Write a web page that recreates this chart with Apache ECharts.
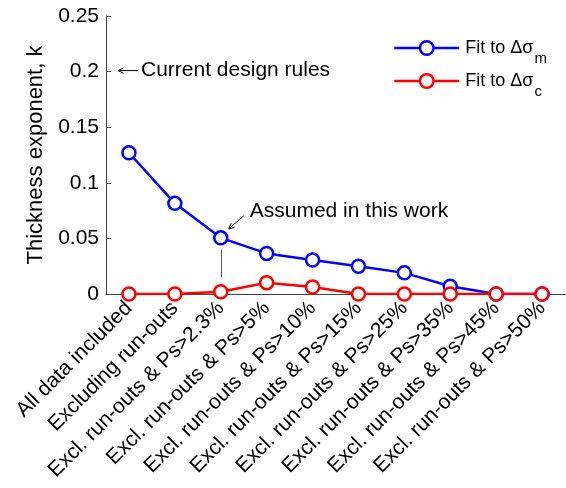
<!DOCTYPE html>
<html>
<head>
<meta charset="utf-8">
<script src="https://cdn.jsdelivr.net/npm/echarts@6/dist/echarts.min.js"></script>
<style>
  html, body { margin: 0; padding: 0; background: #fff; }
  #chart { width: 566px; height: 488px; }
</style>
</head>
<body>
<div id="chart"></div>
<script>
// Data subsets used for the thickness-exponent fits
const categories = [
  'All data included',
  'Excluding run-outs',
  'Excl. run-outs & Ps>2.3%',
  'Excl. run-outs & Ps>5%',
  'Excl. run-outs & Ps>10%',
  'Excl. run-outs & Ps>15%',
  'Excl. run-outs & Ps>25%',
  'Excl. run-outs & Ps>35%',
  'Excl. run-outs & Ps>45%',
  'Excl. run-outs & Ps>50%'
];
// Thickness exponent k fitted to the mean stress range
const fitMean = [0.127, 0.0815, 0.0505, 0.0365, 0.0305, 0.025, 0.019, 0.007, 0, 0];
// Thickness exponent k fitted to the characteristic stress range
const fitChar = [0, 0, 0.002, 0.0102, 0.0063, 0, 0, 0, 0, 0];
// Value axis ticks
const yTickValues = [0, 0.05, 0.1, 0.15, 0.2, 0.25];
// Reference levels for the annotations
const designRuleK = 0.2;
const assumedIndex = 2;
const assumedGuide = [0.0153, 0.0396];

const FONT = 'Liberation Sans, Arial, sans-serif';
const FS = 21;
const chart = echarts.init(document.getElementById('chart'));

const seriesNames = ['Fit to Δσ_m', 'Fit to Δσ_c'];

function markerSeries(name, data, color, extra) {
  return Object.assign({
    name: name,
    type: 'line',
    data: data,
    symbol: 'circle',
    symbolSize: 13,
    showAllSymbol: true,
    clip: true,
    lineStyle: { color: color, width: 2.5 },
    itemStyle: { color: '#fff', borderColor: color, borderWidth: 2.5 },
    emphasis: { disabled: true },
    animation: false
  }, extra || {});
}

chart.setOption({
  animation: false,
  backgroundColor: '#fff',
  grid: { left: 106, right: 1, top: 16, bottom: 194 },
  legend: {
    orient: 'vertical',
    left: 393,
    top: 39,
    padding: 0,
    itemWidth: 65,
    itemHeight: 17,
    itemGap: 6,
    data: seriesNames,
    lineStyle: { width: 2.5 },
    itemStyle: { borderWidth: 2.5 },
    formatter: function (name) {
      const parts = name.split('_');
      return '{n|' + parts[0] + '}{s|' + parts[1] + '}';
    },
    textStyle: {
      fontFamily: FONT,
      color: '#000',
      padding: [0, 0, 0, 1],
      rich: {
        n: { fontSize: 18, fontFamily: FONT, color: '#000', lineHeight: 22 },
        s: { fontSize: 15, fontFamily: FONT, color: '#000', padding: [21, 0, 0, 1] }
      }
    },
    selectedMode: false
  },
  xAxis: {
    type: 'category',
    data: categories,
    boundaryGap: true,
    axisLine: { lineStyle: { color: '#404040', width: 1 } },
    axisTick: { inside: true, alignWithLabel: true, length: 5, lineStyle: { color: '#404040' } },
    axisLabel: { rotate: 45, fontSize: FS, fontFamily: FONT, color: '#000', margin: 11, interval: 0 },
    splitLine: { show: false }
  },
  yAxis: {
    type: 'value',
    min: yTickValues[0],
    max: yTickValues[yTickValues.length - 1],
    interval: yTickValues[1] - yTickValues[0],
    name: 'Thickness exponent, k',
    nameLocation: 'middle',
    nameGap: 56,
    nameRotate: 90,
    nameTextStyle: { fontSize: 22, fontFamily: FONT, color: '#000' },
    axisLine: { show: true, lineStyle: { color: '#404040', width: 1 } },
    axisTick: { show: true, inside: true, length: 5, lineStyle: { color: '#404040' } },
    axisLabel: { fontSize: FS, fontFamily: FONT, color: '#000', margin: 7 },
    splitLine: { show: false }
  },
  series: [
    markerSeries(seriesNames[0], fitMean, '#0000ff', {
      z: 2,
      markLine: {
        silent: true,
        symbol: ['none', 'none'],
        label: { show: false },
        lineStyle: { color: '#555', width: 1, type: 'solid' },
        data: [[
          { coord: [assumedIndex, assumedGuide[0]] },
          { coord: [assumedIndex, assumedGuide[1]] }
        ]]
      }
    }),
    markerSeries(seriesNames[1], fitChar, '#ff0000', { z: 3 })
  ]
});

// Annotation arrows and texts, placed from the axes' own scales
function arrow(tail, tip) {
  const dx = tip[0] - tail[0], dy = tip[1] - tail[1];
  const ang = Math.atan2(dy, dx);
  const len = 6, spread = 0.45;
  const back = ang + Math.PI;
  const h1 = [tip[0] + len * Math.cos(back + spread), tip[1] + len * Math.sin(back + spread)];
  const h2 = [tip[0] + len * Math.cos(back - spread), tip[1] + len * Math.sin(back - spread)];
  const style = { stroke: '#000', lineWidth: 1 };
  return [
    { type: 'polyline', shape: { points: [tail, tip] }, style: style, silent: true },
    { type: 'polyline', shape: { points: [h1, tip, h2] }, style: style, silent: true }
  ];
}

const axisOrigin = chart.convertToPixel({ gridIndex: 0 }, [0, designRuleK]);
const yAxisX = chart.getModel().getComponent('grid').coordinateSystem.getRect().x;
const designY = axisOrigin[1];
const assumedPt = chart.convertToPixel({ seriesIndex: 0 }, [assumedIndex, fitMean[assumedIndex]]);

const tipA = [assumedPt[0] + 8, assumedPt[1] - 9];
const tailA = [assumedPt[0] + 23, assumedPt[1] - 22];

const graphics = []
  .concat(arrow([yAxisX + 32, designY - 1], [yAxisX + 12, designY - 1]))
  .concat(arrow(tailA, tipA))
  .concat([
    {
      type: 'text', silent: true,
      x: yAxisX + 35, y: designY - 1,
      style: { text: 'Current design rules', font: FS + 'px ' + FONT, fill: '#000', verticalAlign: 'middle', align: 'left' }
    },
    {
      type: 'text', silent: true,
      x: assumedPt[0] + 29, y: assumedPt[1] - 27,
      style: { text: 'Assumed in this work', font: FS + 'px ' + FONT, fill: '#000', verticalAlign: 'middle', align: 'left' }
    }
  ]);

chart.setOption({ graphic: graphics });
</script>
</body>
</html>
